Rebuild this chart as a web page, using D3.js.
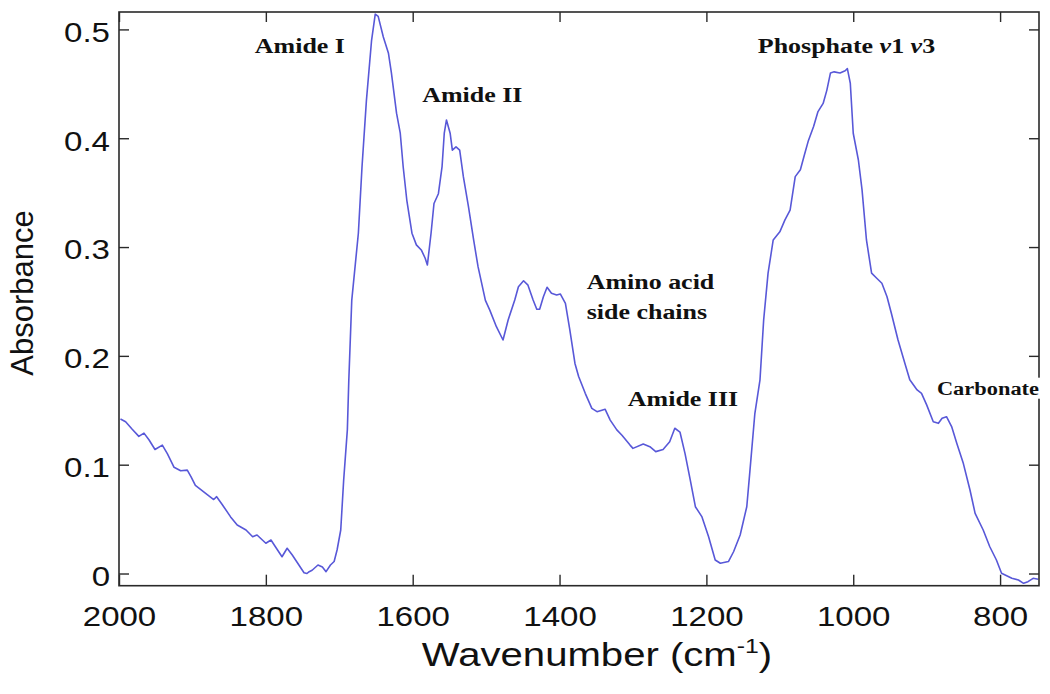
<!DOCTYPE html>
<html>
<head>
<meta charset="utf-8">
<script src="https://cdn.jsdelivr.net/npm/d3@7"></script>
<style>
  html, body { margin: 0; padding: 0; background: #fff; }
  svg { display: block; }
</style>
</head>
<body>
<svg id="chart" width="1050" height="694"></svg>
<script>
// ---- data ----
const wavenumber = [
  1998,1991,1982,1973,1966,1959,1951,1941,1934,1925,
  1916,1907,1902,1896,1882,1871,1867,1859,1848,1839,
  1827,1818,1812,1800,1793,1787,1778,1771,1764,1755,
  1748,1744,1741,1737,1729,1723,1718,1712,1707,1703,
  1698,1694,1689,1687,1683,1674,1669,1663,1656,1651,
  1647,1640,1633,1629,1622,1617,1613,1608,1601,1595,
  1588,1583,1580,1575,1571,1565,1560,1557,1554,1549,
  1546,1541,1536,1531,1524,1517,1511,1501,1495,1486,
  1477,1470,1461,1456,1449,1443,1436,1431,1427,1422,
  1417,1411,1404,1399,1392,1386,1379,1374,1365,1356,
  1349,1338,1331,1322,1315,1304,1300,1286,1277,1269,
  1259,1250,1243,1236,1229,1222,1215,1206,1197,1188,
  1181,1170,1163,1154,1145,1141,1134,1127,1122,1116,
  1109,1100,1093,1086,1079,1072,1066,1061,1054,1048,
  1041,1036,1031,1026,1018,1011,1008,1004,1000,993,
  988,982,975,968,961,954,948,939,929,923,
  913,907,900,891,884,879,873,866,859,850,
  841,834,823,814,805,798,784,775,768,762,
  755,748
];
const absorbance = [
  0.142,0.1395,0.1325,0.126,0.129,0.1227,0.114,0.118,0.110,0.0976,
  0.0945,0.095,0.089,0.081,0.0737,0.068,0.0706,0.063,0.052,0.0446,
  0.040,0.0338,0.0354,0.0278,0.0308,0.0246,0.0154,0.0232,0.017,0.0078,
  0.0007,0.0,0.0017,0.003,0.0078,0.006,0.0017,0.0078,0.011,0.0216,
  0.040,0.086,0.132,0.178,0.251,0.3127,0.374,0.435,0.490,0.514,
  0.512,0.493,0.478,0.46,0.423,0.405,0.374,0.343,0.3127,0.302,
  0.297,0.2897,0.2835,0.3127,0.340,0.349,0.374,0.4046,0.4168,0.4046,
  0.389,0.392,0.389,0.3647,0.337,0.3065,0.282,0.251,0.242,0.2268,
  0.2146,0.233,0.2514,0.2636,0.269,0.265,0.2514,0.2428,0.243,0.2544,
  0.263,0.2575,0.256,0.2569,0.2483,0.2238,0.193,0.181,0.1656,0.1518,
  0.1487,0.151,0.141,0.132,0.127,0.118,0.115,0.119,0.1165,0.112,
  0.114,0.121,0.1335,0.130,0.110,0.086,0.0614,0.052,0.0338,0.0124,
  0.0094,0.011,0.020,0.0354,0.0614,0.092,0.147,0.178,0.233,0.276,
  0.3065,0.314,0.325,0.334,0.3647,0.371,0.386,0.398,0.4107,0.4245,
  0.432,0.444,0.46,0.461,0.460,0.462,0.464,0.4505,0.4046,0.380,
  0.3525,0.3065,0.276,0.2713,0.2667,0.2544,0.239,0.2146,0.1917,0.178,
  0.1687,0.1656,0.155,0.1395,0.138,0.1426,0.1441,0.135,0.1197,0.101,
  0.0767,0.0553,0.040,0.0246,0.0124,0.0002,-0.0044,-0.006,-0.009,-0.0075,
  -0.0044,-0.0053
];
const xTicks = [2000, 1800, 1600, 1400, 1200, 1000, 800];
const yTicks = [0, 0.1, 0.2, 0.3, 0.4, 0.5];
const xDomain = [2000, 747];
const yDomain = [-0.0112, 0.516];
const xTitle = "Wavenumber (cm";
const xTitleSup = "-1";
const yTitle = "Absorbance";
const annotations = [
  { parts: [["Amide I", false]], wn: 1815, val: 0.4785 },
  { parts: [["Amide II", false]], wn: 1587, val: 0.4335 },
  { parts: [["Amino acid", false]], wn: 1363, val: 0.2613 },
  { parts: [["side chains", false]], wn: 1363, val: 0.2337 },
  { parts: [["Amide III", false]], wn: 1307, val: 0.1540 },
  { parts: [["Phosphate ", false], ["v", true], ["1 ", false], ["v", true], ["3", false]], wn: 1130, val: 0.4785 },
  { parts: [["Carbonate", false]], wn: 886, val: 0.1640, small: true, bg: true }
];

// ---- layout ----
const L = 119, R = 1039, T = 12, B = 585.7;
const SX = 1.18; // horizontal glyph stretch seen in the reference
const svg = d3.select("#chart");
const x = d3.scaleLinear().domain(xDomain).range([L, R]);
const y = d3.scaleLinear().domain(yDomain).range([B, T]);
const axisColor = "#2a2a2a";
const sans = "'Liberation Sans', Arial, sans-serif";
const serif = "'Liberation Serif', 'Times New Roman', serif";

svg.append("defs").append("clipPath").attr("id", "clip")
  .append("rect").attr("x", L).attr("y", T - 4).attr("width", R - L).attr("height", B - T + 4);

// spectrum line
const pts = wavenumber.map((w, i) => [w, absorbance[i]]);
svg.append("path")
  .datum(pts)
  .attr("clip-path", "url(#clip)")
  .attr("fill", "none")
  .attr("stroke", "#5858d8")
  .attr("stroke-width", 1.6)
  .attr("stroke-linejoin", "round")
  .attr("d", d3.line().x(d => x(d[0])).y(d => y(d[1])));

// axes (ticks inward, MATLAB-style box)
function styleAxis(g) {
  g.select(".domain").remove();
  g.selectAll(".tick line").attr("stroke", axisColor).attr("stroke-width", 1.4);
}
const axBottom = svg.append("g").attr("transform", `translate(0,${B})`)
  .call(d3.axisBottom(x).tickValues(xTicks).tickSizeInner(-11).tickSizeOuter(0).tickPadding(0).tickFormat(d3.format("d")));
styleAxis(axBottom);
axBottom.selectAll(".tick text")
  .attr("y", 0).attr("dy", 0)
  .attr("transform", `translate(0,40.5) scale(${SX},1)`)
  .style("font-family", sans).style("font-size", "28px").attr("fill", "#111");

const axTop = svg.append("g").attr("transform", `translate(0,${T})`)
  .call(d3.axisTop(x).tickValues(xTicks).tickSizeInner(-10).tickSizeOuter(0).tickFormat(""));
styleAxis(axTop);

const axLeft = svg.append("g").attr("transform", `translate(${L},0)`)
  .call(d3.axisLeft(y).tickValues(yTicks).tickSizeInner(-10).tickSizeOuter(0).tickFormat(d => d === 0 ? "0" : d3.format(".1f")(d)));
styleAxis(axLeft);
axLeft.selectAll(".tick text")
  .attr("x", 0).attr("dy", 0)
  .attr("transform", `translate(-9,11.8) scale(${SX},1)`)
  .attr("text-anchor", "end")
  .style("font-family", sans).style("font-size", "28px").attr("fill", "#111");

const axRight = svg.append("g").attr("transform", `translate(${R},0)`)
  .call(d3.axisRight(y).tickValues(yTicks).tickSizeInner(-10).tickSizeOuter(0).tickFormat(""));
styleAxis(axRight);

// frame
svg.append("rect")
  .attr("x", L).attr("y", T).attr("width", R - L).attr("height", B - T)
  .attr("fill", "none").attr("stroke", axisColor).attr("stroke-width", 1.6);

// axis titles
const xt = svg.append("text")
  .attr("transform", `translate(597,666) scale(${SX},1)`)
  .attr("text-anchor", "middle")
  .style("font-family", sans).style("font-size", "34px").attr("fill", "#111");
xt.append("tspan").text(xTitle);
xt.append("tspan").attr("dy", -13).style("font-size", "21px").text(xTitleSup);
xt.append("tspan").attr("dy", 13).text(")");

svg.append("text")
  .attr("transform", "translate(33,293) rotate(-90)")
  .attr("text-anchor", "middle")
  .style("font-family", sans).style("font-size", "31px").attr("fill", "#111")
  .text(yTitle);

// annotations
annotations.forEach(a => {
  const px = x(a.wn), py = y(a.val);
  const g = svg.append("g").attr("transform", `translate(${px},${py}) scale(${SX},1)`);
  const t = g.append("text")
    .style("font-family", serif).style("font-weight", "bold")
    .style("font-size", a.small ? "19px" : "22px").attr("fill", "#111");
  a.parts.forEach(p => t.append("tspan").style("font-style", p[1] ? "italic" : "normal").text(p[0]));
  if (a.bg) {
    const bb = t.node().getBBox();
    g.insert("rect", "text").attr("x", bb.x - 1).attr("y", bb.y).attr("width", bb.width + 2).attr("height", bb.height).attr("fill", "#fff");
  }
});
</script>
</body>
</html>
